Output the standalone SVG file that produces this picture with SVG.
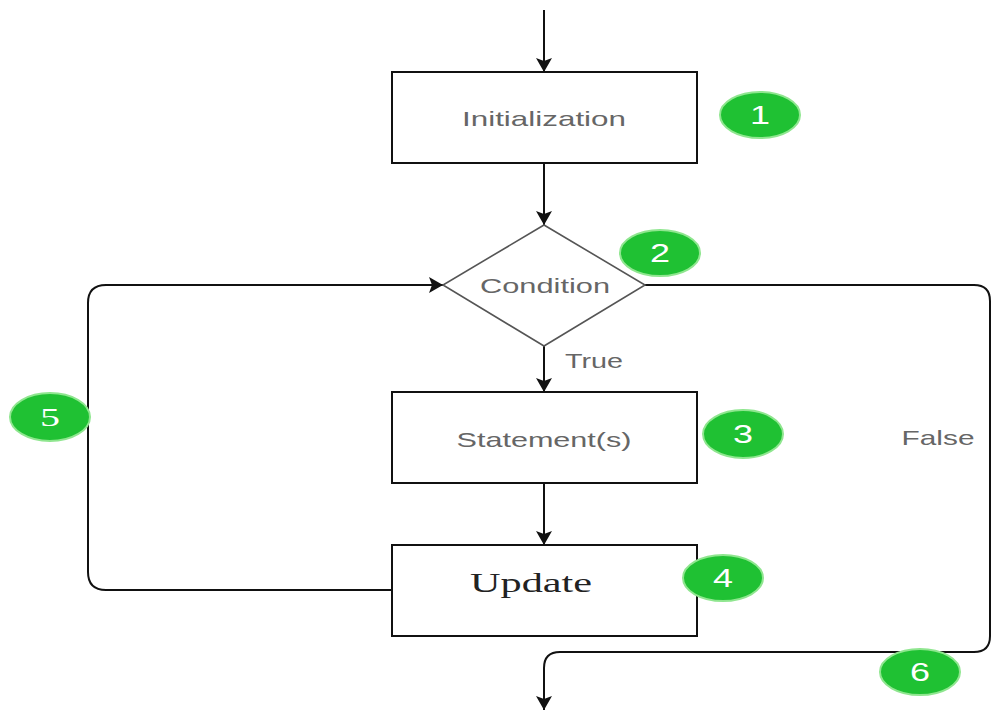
<svg xmlns="http://www.w3.org/2000/svg" width="993" height="713" viewBox="0 0 993 713">
<style>
.box{fill:#fff;stroke:#111;stroke-width:2}
.dia{fill:#fff;stroke:#555;stroke-width:1.6}
.lbl{font-family:"Liberation Sans",Arial,sans-serif;fill:#666;text-anchor:middle}
.con{fill:none;stroke:#111;stroke-width:2}
.badge{fill:#1fc133;stroke:#8fe68f;stroke-width:2}
.num{font-family:"Liberation Sans",Arial,sans-serif;fill:#fff;font-size:25px;text-anchor:middle}
</style>
<defs>
<marker id="arr" markerUnits="userSpaceOnUse" viewBox="0 0 14 16" refX="14" refY="8" markerWidth="14" markerHeight="16" orient="auto">
<path d="M0,0 L14,8 L0,16 L3,8 z" fill="#111"/>
</marker>
</defs>
<rect width="993" height="713" fill="#fff"/>
<g id="connectors">
<path class="con" d="M544,10 V72" marker-end="url(#arr)"/>
<path class="con" d="M544,163 V225" marker-end="url(#arr)"/>
<path class="con" d="M544,346 V392" marker-end="url(#arr)"/>
<path class="con" d="M544,483 V545" marker-end="url(#arr)"/>
<path class="con" d="M392,590 H106 Q88,590 88,572 V303 Q88,285 106,285 H443" marker-end="url(#arr)"/>
<path class="con" d="M645,285 H974 Q990,285 990,301 V636 Q990,652 974,652 H560 Q544,652 544,668 V710" marker-end="url(#arr)"/>
<text class="lbl" x="594" y="368" font-size="21" textLength="58" lengthAdjust="spacingAndGlyphs">True</text>
<text class="lbl" x="938" y="445" font-size="21" textLength="73" lengthAdjust="spacingAndGlyphs">False</text>
</g>
<g id="init">
<rect class="box" x="392" y="72" width="305" height="91"/>
<text class="lbl" x="544" y="126" font-size="21" textLength="164" lengthAdjust="spacingAndGlyphs">Initialization</text>
</g>
<g id="condition">
<polygon class="dia" points="544,225 645,285 544,346 443,285"/>
<text class="lbl" x="545" y="293" font-size="21" textLength="130" lengthAdjust="spacingAndGlyphs">Condition</text>
</g>
<g id="statements">
<rect class="box" x="392" y="392" width="305" height="91"/>
<text class="lbl" x="544" y="447" font-size="21" textLength="175" lengthAdjust="spacingAndGlyphs">Statement(s)</text>
</g>
<g id="update">
<rect class="box" x="392" y="545" width="305" height="91"/>
<text x="531" y="592" font-family="'Liberation Serif','Times New Roman',serif" font-size="27" fill="#222" text-anchor="middle" textLength="122" lengthAdjust="spacingAndGlyphs">Update</text>
</g>
<g id="badge1"><ellipse class="badge" cx="760" cy="115" rx="40" ry="23"/><text class="num" x="760" y="124" textLength="20" lengthAdjust="spacingAndGlyphs">1</text></g>
<g id="badge2"><ellipse class="badge" cx="660" cy="253" rx="40" ry="23"/><text class="num" x="660" y="262" textLength="20" lengthAdjust="spacingAndGlyphs">2</text></g>
<g id="badge3"><ellipse class="badge" cx="743" cy="434" rx="40" ry="24"/><text class="num" x="743" y="443" textLength="20" lengthAdjust="spacingAndGlyphs">3</text></g>
<g id="badge4"><ellipse class="badge" cx="723" cy="578" rx="40" ry="23"/><text class="num" x="723" y="587" textLength="20" lengthAdjust="spacingAndGlyphs">4</text></g>
<g id="badge5"><ellipse class="badge" cx="50" cy="417" rx="40" ry="24"/><text x="50" y="426" font-family="'Liberation Serif',serif" font-size="26" fill="#fff" text-anchor="middle" textLength="20" lengthAdjust="spacingAndGlyphs">5</text></g>
<g id="badge6"><ellipse class="badge" cx="920" cy="672" rx="40" ry="23"/><text class="num" x="920" y="681" textLength="20" lengthAdjust="spacingAndGlyphs">6</text></g>
</svg>
